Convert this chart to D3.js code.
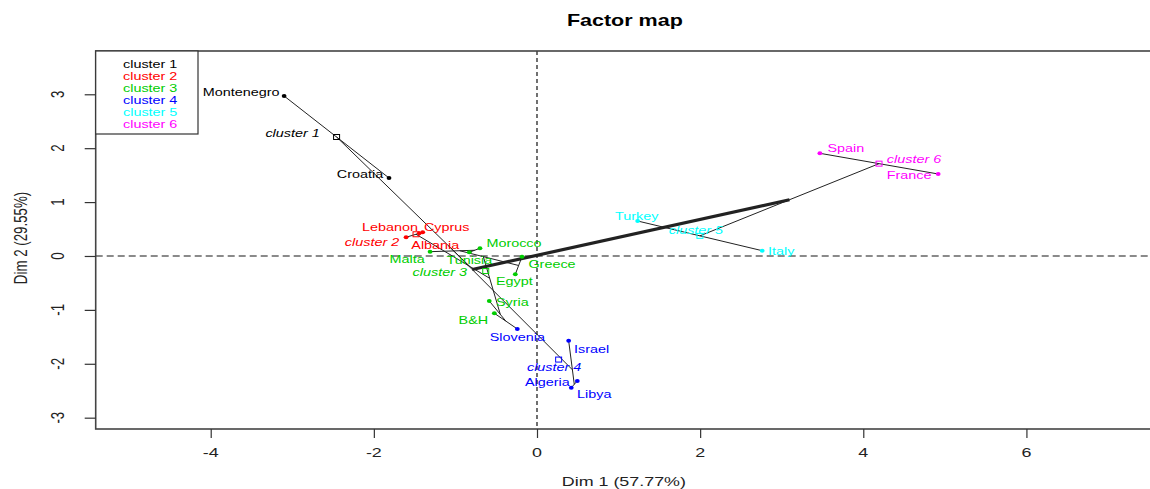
<!DOCTYPE html>
<html><head><meta charset="utf-8">
<script src="https://cdn.jsdelivr.net/npm/d3@7"></script>
<style>
html,body{margin:0;padding:0;background:#fff;}
svg{display:block;}
text{font-family:"Liberation Sans",Arial,sans-serif;}
</style></head>
<body>
<script>
// ---- data ----
const countries = ["Montenegro","Croatia","Lebanon","Cyprus","Albania","Morocco","Tunisia","Malta","Greece","Egypt","Syria","B&H","Slovenia","Israel","Algeria","Libya","Turkey","Italy","Spain","France"];
const dim1 = [-3.100,-1.814,-1.605,-1.401,-1.443,-0.699,-0.830,-1.311,-0.184,-0.266,-0.585,-0.523,-0.241,0.388,0.494,0.420,1.234,2.761,3.468,4.918];
const dim2 = [2.968,1.447,0.347,0.440,0.422,0.143,0.069,0.080,-0.013,-0.340,-0.835,-1.063,-1.354,-1.571,-2.319,-2.443,0.649,0.098,1.905,1.521];
const cluster = [1,1,2,2,2,3,3,3,3,3,3,3,4,4,4,4,5,5,6,6];
const clusterNames = ["cluster 1","cluster 2","cluster 3","cluster 4","cluster 5","cluster 6"];
// hierarchical merges: a string is a country, a number refers to an earlier merge
const merges = [
  ["Turkey","Italy"],            //0
  ["Spain","France"],            //1
  [0,1],                         //2
  ["Montenegro","Croatia"],      //3
  ["Cyprus","Albania"],          //4
  ["Lebanon",4],                 //5
  ["Morocco","Tunisia"],         //6
  ["Malta",6],                   //7
  ["Greece","Egypt"],            //8
  [7,8],                         //9
  ["B&H","Slovenia"],            //10
  ["Syria",10],                  //11
  [9,11],                        //12
  [5,12],                        //13
  [3,13],                        //14
  ["Algeria","Libya"],           //15
  ["Israel",15],                 //16
  [14,16],                       //17
  [17,2]                         //18
];
const xTicks = [-4,-2,0,2,4,6];
const yTicks = [-3,-2,-1,0,1,2,3];
const title = "Factor map";
const xTitle = "Dim 1 (57.77%)";
const yTitle = "Dim 2 (29.55%)";

// ---- layout / style ----
const W = 1150, H = 489;
const colors = ["#000000","#FF0000","#00CD00","#0000FF","#00FFFF","#FF00FF"];
const SX = 1.345; // horizontal stretch of the original picture
const L = 95.7, R = 1154, T = 51, B = 429;
const x = d3.scaleLinear().domain([-5.41, 7.564]).range([L, R]);
const y = d3.scaleLinear().domain([-3.21, 3.803]).range([B, T]);

const labelOff = {
  "Montenegro":[-43,-4],"Croatia":[-29,-4],"Lebanon":[-16,-10],"Cyprus":[24,-5],"Albania":[16,12],
  "Morocco":[34,-5],"Tunisia":[0,8],"Malta":[-23,8],"Greece":[30,8],"Egypt":[-1,7],"Syria":[23,1],
  "B&H":[-21,7],"Slovenia":[0,8],"Israel":[23,9],"Algeria":[-30,1],"Libya":[23,7],
  "Turkey":[-1,-5],"Italy":[19,1],"Spain":[26,-5],"France":[-29,1],
  "cluster 1":[-44,-4],"cluster 2":[-44,8],"cluster 3":[-46,1],"cluster 4":[-4.5,8],"cluster 5":[-4,-6],"cluster 6":[35,-4]
};

const svg = d3.select("body").append("svg").attr("width",W).attr("height",H);
svg.append("rect").attr("width",W).attr("height",H).attr("fill","#fff");

function txt(g, px, py, s, o) {
  o = o || {};
  let tr = `translate(${px},${py}) scale(${SX},1)` + (o.rot ? " rotate(-90)" : "");
  return g.append("text").attr("transform", tr)
    .attr("text-anchor", o.anchor || "middle")
    .attr("dy","0.35em")
    .attr("font-size", o.size || 10.7)
    .attr("font-style", o.italic ? "italic" : "normal")
    .attr("font-weight", o.bold ? "bold" : "normal")
    .attr("fill", o.color || "#000")
    .text(s);
}

// clip region
svg.append("clipPath").attr("id","clip").append("rect").attr("x",L).attr("y",T).attr("width",R-L).attr("height",B-T);
const plot = svg.append("g").attr("clip-path","url(#clip)");

// reference lines
plot.append("line").attr("x1",L).attr("x2",R).attr("y1",y(0)).attr("y2",y(0))
  .attr("stroke","#8a8a8a").attr("stroke-width",2).attr("stroke-dasharray","7,4");
plot.append("line").attr("x1",x(0)).attr("x2",x(0)).attr("y1",T).attr("y2",B)
  .attr("stroke","#111").attr("stroke-width",1.2).attr("stroke-dasharray","4,3");

// members of merges and centroids
const idx = {}; countries.forEach((c,i)=> idx[c]=i);
const members = [];
function mem(a){ return typeof a === "string" ? [idx[a]] : members[a]; }
merges.forEach((m,k)=> members[k] = mem(m[0]).concat(mem(m[1])));
function centroid(list){ return [d3.mean(list,i=>dim1[i]), d3.mean(list,i=>dim2[i])]; }

// tree segments
merges.forEach((m,k)=>{
  const a = centroid(mem(m[0])), b = centroid(mem(m[1]));
  plot.append("line").attr("x1",x(a[0])).attr("y1",y(a[1])).attr("x2",x(b[0])).attr("y2",y(b[1]))
    .attr("stroke", "#222").attr("stroke-width", k === merges.length-1 ? 3.2 : 1);
});

// points
countries.forEach((c,i)=>{
  plot.append("ellipse").attr("cx",x(dim1[i])).attr("cy",y(dim2[i])).attr("rx",2.4).attr("ry",2)
    .attr("fill",colors[cluster[i]-1]);
  const o = labelOff[c];
  txt(plot, x(dim1[i])+o[0], y(dim2[i])+o[1], c, {color: colors[cluster[i]-1]});
});

// cluster centres
clusterNames.forEach((cn,j)=>{
  const list = d3.range(countries.length).filter(i=>cluster[i]===j+1);
  const c = centroid(list);
  plot.append("rect").attr("x",x(c[0])-3).attr("y",y(c[1])-2.5).attr("width",6).attr("height",5)
    .attr("fill","none").attr("stroke",colors[j]).attr("stroke-width",1);
  const o = labelOff[cn];
  txt(plot, x(c[0])+o[0], y(c[1])+o[1], cn, {color: colors[j], italic:true});
});

// box
svg.append("rect").attr("x",L).attr("y",T).attr("width",R-L).attr("height",B-T)
  .attr("fill","none").attr("stroke","#444").attr("stroke-width",1.6);

// axes
const xa = svg.append("g").attr("transform",`translate(0,${B})`)
  .call(d3.axisBottom(x).tickValues(xTicks).tickSize(9).tickFormat(""));
xa.select(".domain").remove();
xa.selectAll(".tick line").attr("stroke","#333").attr("stroke-width",1.2);
xTicks.forEach(t=> txt(svg, x(t), 452, String(t).replace("-","-"), {size:13.3, color:"#222"}));

const ya = svg.append("g").attr("transform",`translate(${L},0)`)
  .call(d3.axisLeft(y).tickValues(yTicks).tickSize(11).tickFormat(""));
ya.select(".domain").remove();
ya.selectAll(".tick line").attr("stroke","#333").attr("stroke-width",1.2);
yTicks.forEach(t=> txt(svg, 58, y(t), String(t), {size:13.3, rot:true, color:"#222"}));

// titles
txt(svg, (L+R)/2, 20, title, {size:16, bold:true});
txt(svg, (L+R)/2 - 1, 481, xTitle, {size:13.3, color:"#222"});
txt(svg, 21, 238, yTitle, {size:13.3, rot:true, color:"#222"});

// legend
svg.append("rect").attr("x",L).attr("y",T).attr("width",198-L).attr("height",134-T)
  .attr("fill","#fff").attr("stroke","#333").attr("stroke-width",1.2);
clusterNames.forEach((cn,j)=> txt(svg, 123, 64 + 12*j, cn, {anchor:"start", color: colors[j]}));
</script>
</body></html>
